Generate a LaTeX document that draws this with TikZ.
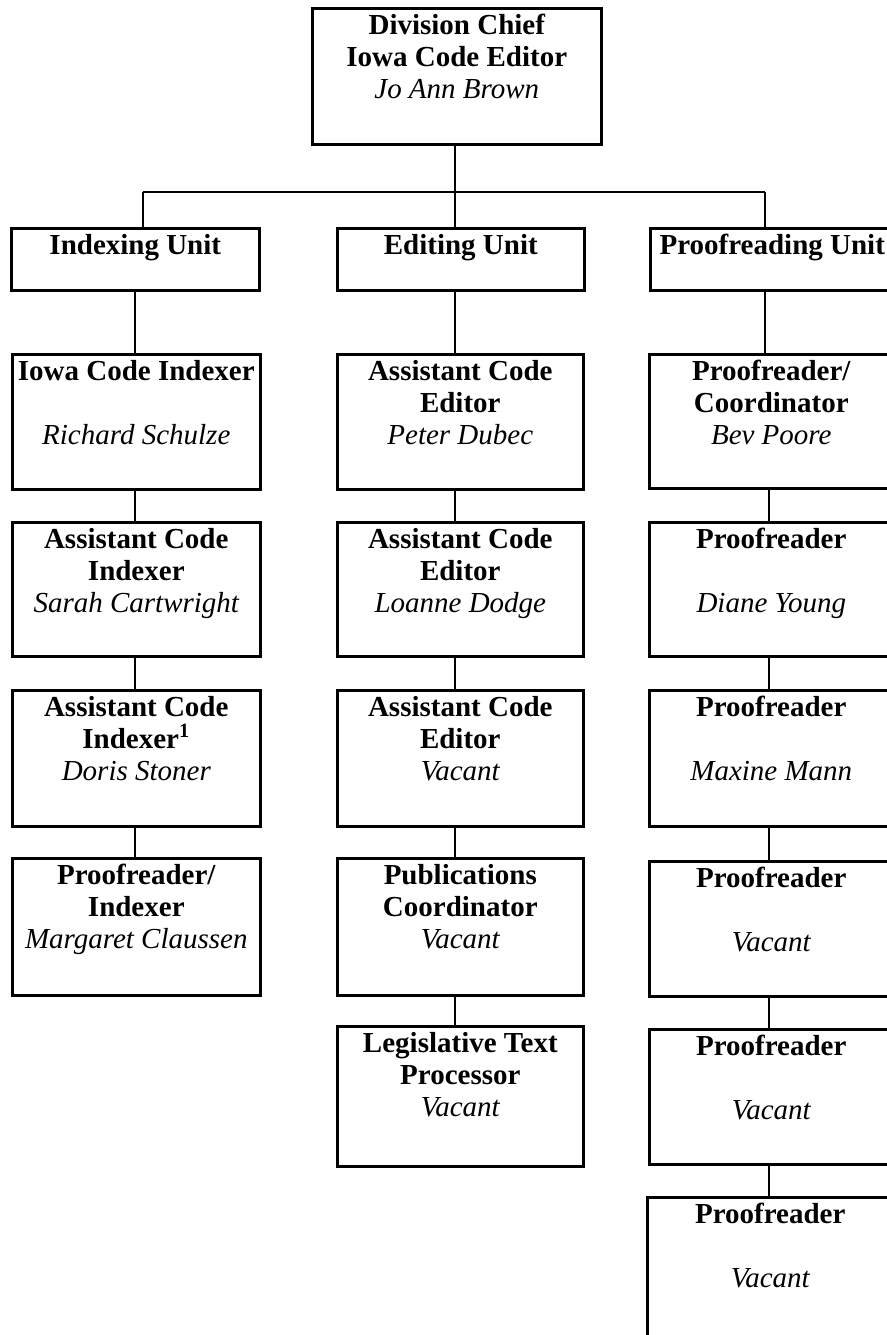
\documentclass[tikz,border=0pt]{standalone}
\usepackage{fontspec}
\setmainfont{Liberation Serif}
\newcommand{\boxtxt}[3]{\parbox[c][#2][t]{#1}{\centering\fontsize{14.5}{16}\selectfont\bfseries\rule{0pt}{13pt}#3}}
\newcommand{\nm}[1]{{\mdseries\itshape #1}}
\tikzset{
  orgbox/.style={draw, line width=1.3pt, inner sep=0pt, anchor=north west},
  link/.style={line width=1.1pt}
}
\begin{document}
\begin{tikzpicture}[x=0.5pt,y=-0.5pt]
\useasboundingbox (0,0) rectangle (887,1335);
\clip (0,0) rectangle (887,1335);
% top
\node[orgbox] (chief) at (311,7) {\boxtxt{144.5pt}{68pt}{Division Chief\\Iowa Code Editor\\\nm{Jo Ann Brown}}};
% units
\node[orgbox] (idx) at (10,227) {\boxtxt{124pt}{31pt}{Indexing Unit}};
\node[orgbox] (edu) at (336,227) {\boxtxt{123.5pt}{31pt}{Editing Unit}};
\node[orgbox] (pru) at (649,227) {\boxtxt{122pt}{31pt}{Proofreading Unit}};
% column 1
\node[orgbox] (i1) at (11,353) {\boxtxt{124pt}{67.5pt}{Iowa Code Indexer\\[16pt]\nm{Richard Schulze}}};
\node[orgbox] (i2) at (11,521) {\boxtxt{124pt}{67pt}{Assistant Code\\Indexer\\\nm{Sarah Cartwright}}};
\node[orgbox] (i3) at (11,689) {\boxtxt{124pt}{68pt}{Assistant Code\\Indexer\textsuperscript{1}\\\nm{Doris Stoner}}};
\node[orgbox] (i4) at (11,857) {\boxtxt{124pt}{68.5pt}{Proofreader/\\Indexer\\\nm{Margaret Claussen}}};
% column 2
\node[orgbox] (e1) at (336,353) {\boxtxt{123pt}{67.5pt}{Assistant Code\\Editor\\\nm{Peter Dubec}}};
\node[orgbox] (e2) at (336,521) {\boxtxt{123pt}{67pt}{Assistant Code\\Editor\\\nm{Loanne Dodge}}};
\node[orgbox] (e3) at (336,689) {\boxtxt{123pt}{68pt}{Assistant Code\\Editor\\\nm{Vacant}}};
\node[orgbox] (e4) at (336,857) {\boxtxt{123pt}{68.5pt}{Publications\\Coordinator\\\nm{Vacant}}};
\node[orgbox] (e5) at (336,1025) {\boxtxt{123pt}{70pt}{Legislative Text\\Processor\\\nm{Vacant}}};
% column 3
\node[orgbox] (p1) at (648,353) {\boxtxt{122pt}{67pt}{Proofreader/\\Coordinator\\\nm{Bev Poore}}};
\node[orgbox] (p2) at (648,521) {\boxtxt{122pt}{67pt}{Proofreader\\[16pt]\nm{Diane Young}}};
\node[orgbox] (p3) at (648,689) {\boxtxt{122pt}{68pt}{Proofreader\\[16pt]\nm{Maxine Mann}}};
\node[orgbox] (p4) at (648,860) {\boxtxt{122pt}{67.5pt}{Proofreader\\[16pt]\nm{Vacant}}};
\node[orgbox] (p5) at (648,1028) {\boxtxt{122pt}{67.5pt}{Proofreader\\[16pt]\nm{Vacant}}};
\node[orgbox] (p6) at (646,1196) {\boxtxt{123pt}{80pt}{Proofreader\\[16pt]\nm{Vacant}}};
% bus and column axes
\coordinate (c1) at (143,192);
\coordinate (c2) at (455,192);
\coordinate (c3) at (765,192);
\coordinate (a1) at (135,192);
\coordinate (a3) at (769,192);
\draw[link] (chief.south -| c2) -- (c2);
\draw[link] (c1) -- (c3);
\draw[link] (c1) -- (c1 |- idx.north);
\draw[link] (c2) -- (c2 |- edu.north);
\draw[link] (c3) -- (c3 |- pru.north);
% column 1 links
\draw[link] (idx.south -| a1) -- (i1.north -| a1);
\draw[link] (i1.south -| a1) -- (i2.north -| a1);
\draw[link] (i2.south -| a1) -- (i3.north -| a1);
\draw[link] (i3.south -| a1) -- (i4.north -| a1);
% column 2 links
\draw[link] (edu.south -| c2) -- (e1.north -| c2);
\draw[link] (e1.south -| c2) -- (e2.north -| c2);
\draw[link] (e2.south -| c2) -- (e3.north -| c2);
\draw[link] (e3.south -| c2) -- (e4.north -| c2);
\draw[link] (e4.south -| c2) -- (e5.north -| c2);
% column 3 links
\draw[link] (pru.south -| c3) -- (p1.north -| c3);
\draw[link] (p1.south -| a3) -- (p2.north -| a3);
\draw[link] (p2.south -| a3) -- (p3.north -| a3);
\draw[link] (p3.south -| a3) -- (p4.north -| a3);
\draw[link] (p4.south -| a3) -- (p5.north -| a3);
\draw[link] (p5.south -| a3) -- (p6.north -| a3);
\end{tikzpicture}
\end{document}
